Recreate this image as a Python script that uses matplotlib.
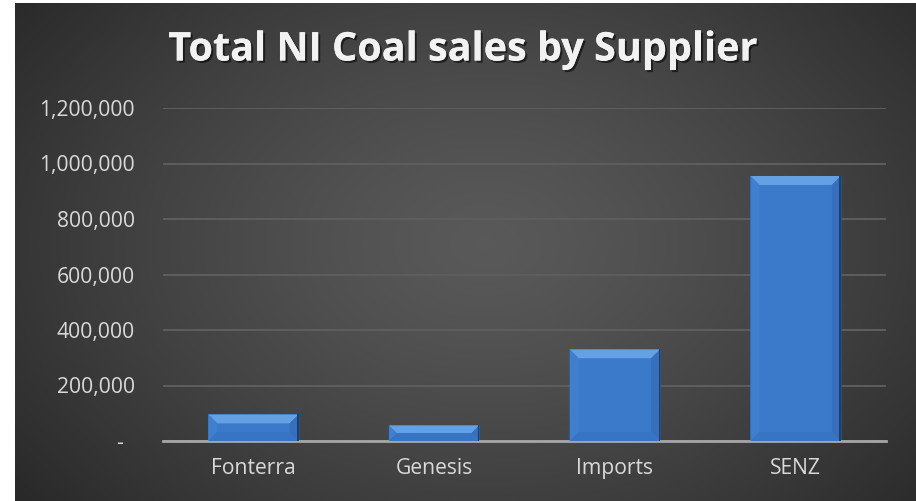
import numpy as np
import matplotlib
matplotlib.use("Agg")
import matplotlib.pyplot as plt
from matplotlib.patches import Polygon
from matplotlib.ticker import FuncFormatter
import matplotlib.patheffects as pe

suppliers = ["Fonterra", "Genesis", "Imports", "SENZ"]
sales = [96000, 56500, 330500, 955000]
yticks = [0, 200000, 400000, 600000, 800000, 1000000, 1200000]
title = "Total NI Coal sales by Supplier"

plt.rcParams["font.family"] = ["Open Sans", "DejaVu Sans"]

W, H = 916, 501
fig = plt.figure(figsize=(W / 100, H / 100), dpi=100, facecolor="white")

# dark radial gradient background, white strip on left/top
bg = fig.add_axes([15 / W, 0, (W - 15) / W, (H - 3) / H], zorder=-5)
yy, xx = np.mgrid[0:498, 0:901]
cx, cy = 470, 240
r = np.sqrt(((xx - cx) / 620.0) ** 2 + ((yy - cy) / 430.0) ** 2)
v = 0.35 - 0.20 * np.clip(r, 0, 1) ** 1.3
bg.imshow(np.dstack([v, v, v]), aspect="auto", interpolation="bilinear")
bg.axis("off")

ax = fig.add_axes([163 / W, 60 / H, 723 / W, 333 / H])
ax.set_facecolor("none")
x = np.arange(len(suppliers))
bars = ax.bar(x, sales, width=0.5, color="#3b7acb", zorder=3,
              edgecolor="#234f8a", linewidth=0.6)

ax.set_xlim(-0.5, len(suppliers) - 0.5)
ax.set_ylim(0, 1200000)
ax.set_yticks(yticks)
ax.yaxis.set_major_formatter(FuncFormatter(lambda v, p: "-  " if v == 0 else f"{int(v):,}"))
ax.set_xticks(x)
ax.set_xticklabels(suppliers)
ax.tick_params(axis="both", length=0, colors="#d9d9d9", labelsize=15.2)
ax.tick_params(axis="y", pad=20)
ax.tick_params(axis="x", pad=12)
ax.grid(axis="y", color="#5e5e5e", linewidth=1.4, zorder=0)
for s in ["top", "right", "left"]:
    ax.spines[s].set_visible(False)
ax.spines["bottom"].set_color("#a6a6a6")
ax.spines["bottom"].set_linewidth(2)
ax.spines["bottom"].set_zorder(5)

# soft bevel on each bar, computed from the bar geometry in pixels
b = 9
for rect in bars:
    (x0, y0), (x1, y1) = ax.transData.transform(
        [(rect.get_x(), 0), (rect.get_x() + rect.get_width(), rect.get_height())])
    bb = min(b, (y1 - y0) / 2)
    faces = [
        ([(x0, y1), (x1, y1), (x1 - bb, y1 - bb), (x0 + bb, y1 - bb)], "#64a0e4"),
        ([(x0, y1), (x0 + bb, y1 - bb), (x0 + bb, y0 + bb), (x0, y0)], "#3f7fcf"),
        ([(x1, y1), (x1 - bb, y1 - bb), (x1 - bb, y0 + bb), (x1, y0)], "#3670bd"),
        ([(x0, y0), (x0 + bb, y0 + bb), (x1 - bb, y0 + bb), (x1, y0)], "#3874c4"),
    ]
    for pts, c in faces:
        fig.add_artist(Polygon(pts, closed=True, facecolor=c, edgecolor="none",
                               transform=None, zorder=4))
    fig.add_artist(Polygon([(x1 - 1.5, y0), (x1 - 1.5, y1), (x1, y1), (x1, y0)],
                           closed=True, facecolor="#1d3f6c", edgecolor="none",
                           transform=None, zorder=4))

fig.text(463 / W, 1 - 50 / H, title, ha="center", va="center", color="#f2f2f2",
         fontsize=28.5, fontweight="bold",
         path_effects=[pe.withSimplePatchShadow(offset=(1.5, -1.5), shadow_rgbFace="black", alpha=0.55),
                       pe.Normal()])

fig.savefig("out.png", dpi=100, facecolor=fig.get_facecolor())
